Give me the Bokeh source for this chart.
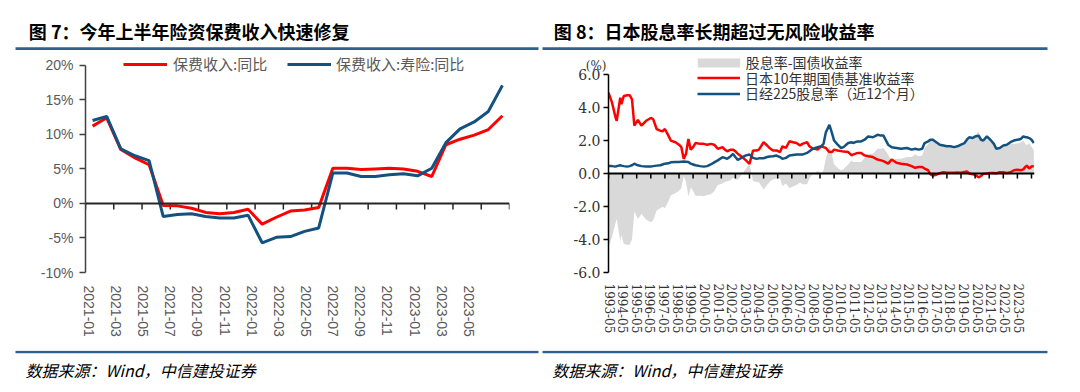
import math
from bokeh.plotting import figure
from bokeh.models import (Range1d, LinearAxis, FixedTicker, PrintfTickFormatter,
                          Legend, LegendItem, Span, AllLabels)
from bokeh.layouts import column, row
from bokeh.core.properties import value
from bokeh.embed import file_html
from bokeh.resources import INLINE

# ---------------- Data: 图7 ----------------
months7 = ["2021-01", "2021-02", "2021-03", "2021-04", "2021-05", "2021-06",
           "2021-07", "2021-08", "2021-09", "2021-10", "2021-11", "2021-12",
           "2022-01", "2022-02", "2022-03", "2022-04", "2022-05", "2022-06",
           "2022-07", "2022-08", "2022-09", "2022-10", "2022-11", "2022-12",
           "2023-01", "2023-02", "2023-03", "2023-04", "2023-05", "2023-06"]
premium_yoy = [11.2, 12.4, 7.8, 6.6, 5.6, -0.3, -0.35, -0.7, -1.3, -1.5, -1.3, -0.85,
               -3.0, -2.0, -1.1, -0.95, -0.6, 5.1, 5.1, 4.9, 5.0, 5.1, 5.0, 4.65,
               3.9, 8.5, 9.3, 9.9, 10.7, 12.7]
life_yoy = [12.0, 12.6, 7.9, 6.9, 6.2, -1.9, -1.6, -1.5, -1.9, -2.1, -2.1, -1.7,
            -5.7, -4.9, -4.8, -4.05, -3.55, 4.4, 4.4, 3.9, 3.9, 4.15, 4.3, 4.0,
            5.1, 8.8, 10.8, 11.8, 13.3, 17.1]
yticks7 = [-10, -5, 0, 5, 10, 15, 20]

# ---------------- Data: 图8 ----------------
dates8 = ["1993-05", "1993-08", "1993-11", "1993-12", "1994-03", "1994-04", "1994-06", "1994-09",
          "1994-11", "1995-01", "1995-03", "1995-06", "1995-09", "1996-01", "1996-05", "1996-07",
          "1996-10", "1997-01", "1997-03", "1997-05", "1997-08", "1997-10", "1998-02", "1998-05",
          "1998-07", "1998-09", "1998-11", "1999-01", "1999-03", "1999-05", "1999-07", "1999-11",
          "2000-02", "2000-05", "2000-08", "2000-11", "2001-02", "2001-06", "2001-08", "2001-10",
          "2002-01", "2002-03", "2002-05", "2002-07", "2002-09", "2002-11", "2003-02", "2003-05",
          "2003-08", "2003-11", "2004-01", "2004-05", "2004-08", "2004-10", "2005-01", "2005-04",
          "2005-07", "2005-09", "2005-12", "2006-03", "2006-06", "2006-09", "2006-12", "2007-02",
          "2007-06", "2007-08", "2007-11", "2008-01", "2008-03", "2008-06", "2008-08", "2008-10",
          "2009-01", "2009-03", "2009-05", "2009-08", "2009-11", "2010-01", "2010-05", "2010-08",
          "2010-09", "2011-01", "2011-04", "2011-07", "2011-10", "2012-02", "2012-06", "2012-09",
          "2012-11", "2013-03", "2013-06", "2013-10", "2014-02", "2014-07", "2014-11", "2015-02",
          "2015-05", "2015-08", "2015-10", "2016-01", "2016-03", "2016-05", "2016-08", "2016-11",
          "2017-02", "2017-05", "2017-08", "2017-11", "2018-02", "2018-05", "2018-08", "2018-10",
          "2018-12", "2019-03", "2019-05", "2019-08", "2019-10", "2019-12", "2020-03", "2020-06",
          "2020-09", "2020-11", "2021-02", "2021-05", "2021-08", "2021-11", "2022-02", "2022-05",
          "2022-08", "2022-10", "2022-12", "2023-01", "2023-03", "2023-05", "2023-07"]
jgb10y = [4.90, 4.30, 3.40, 3.20, 4.60, 4.20, 4.70, 4.75,
          4.75, 4.50, 2.90, 3.25, 2.90, 3.20, 3.37, 3.30,
          2.70, 2.60, 2.56, 2.70, 2.30, 2.00, 1.90, 1.75,
          1.60, 0.89, 1.20, 2.10, 1.45, 1.60, 1.85, 1.80,
          1.80, 1.75, 1.80, 1.75, 1.50, 1.60, 1.45, 1.35,
          1.45, 1.45, 1.35, 1.20, 1.10, 0.99, 0.80, 0.59,
          1.40, 1.40, 1.45, 1.90, 1.70, 1.55, 1.40, 1.40,
          1.30, 1.65, 1.55, 1.96, 1.90, 1.85, 1.70, 1.80,
          1.90, 1.65, 1.50, 1.50, 1.45, 1.65, 1.60, 1.55,
          1.30, 1.30, 1.45, 1.40, 1.36, 1.33, 1.30, 1.10,
          1.15, 1.25, 1.25, 1.10, 1.05, 1.00, 0.85, 0.80,
          0.75, 0.60, 0.85, 0.65, 0.60, 0.55, 0.45, 0.35,
          0.40, 0.40, 0.30, 0.20, -0.05, -0.12, -0.07, 0.02,
          0.08, 0.05, 0.05, 0.05, 0.07, 0.05, 0.10, 0.13,
          0.00, -0.05, -0.08, -0.23, -0.15, -0.02, 0.00, 0.03,
          0.03, 0.02, 0.08, 0.08, 0.03, 0.08, 0.20, 0.23,
          0.20, 0.25, 0.42, 0.48, 0.30, 0.43, 0.45]
nikkei_dy = [0.45, 0.45, 0.42, 0.45, 0.50, 0.48, 0.45, 0.42,
             0.45, 0.50, 0.60, 0.50, 0.45, 0.42, 0.42, 0.45,
             0.48, 0.50, 0.55, 0.60, 0.62, 0.68, 0.70, 0.70,
             0.72, 0.73, 0.72, 0.70, 0.60, 0.55, 0.50, 0.45,
             0.42, 0.45, 0.55, 0.68, 0.80, 0.99, 0.95, 0.89,
             1.05, 1.19, 1.00, 0.83, 0.90, 0.99, 1.10, 1.15,
             0.95, 0.89, 0.92, 0.93, 1.00, 1.03, 1.05, 1.09,
             1.00, 0.89, 0.95, 1.09, 1.12, 1.15, 1.15, 1.15,
             1.25, 1.35, 1.50, 1.55, 1.60, 1.65, 1.80, 2.50,
             2.95, 2.50, 2.00, 1.75, 1.55, 1.60, 1.85, 1.90,
             1.85, 1.95, 1.95, 2.05, 2.25, 2.20, 2.35, 2.30,
             2.30, 1.75, 1.60, 1.55, 1.50, 1.55, 1.45, 1.50,
             1.45, 1.50, 1.85, 1.95, 2.05, 2.05, 1.90, 1.75,
             1.70, 1.65, 1.65, 1.60, 1.65, 1.75, 1.85, 2.05,
             2.20, 2.15, 2.25, 2.30, 2.05, 2.00, 2.25, 2.05,
             1.80, 1.50, 1.55, 1.70, 1.75, 1.90, 2.00, 2.05,
             2.10, 2.25, 2.20, 2.20, 2.15, 2.05, 1.85]
year_labels8 = ["1993-05", "1994-05", "1995-05", "1996-05", "1997-05", "1998-05", "1999-05",
                "2000-05", "2001-05", "2002-05", "2003-05", "2004-05", "2005-05", "2006-05",
                "2007-05", "2008-05", "2009-05", "2010-05", "2011-05", "2012-05", "2013-05",
                "2014-05", "2015-05", "2016-05", "2017-05", "2018-05", "2019-05", "2020-05",
                "2021-05", "2022-05", "2023-05"]
yticks8 = [-6, -4, -2, 0, 2, 4, 6]
unit_label8 = "(%)"

# ---------------- Style ----------------
RED = "#FF0000"
BLUE = "#13527F"
GRAY = "#D9D9D9"
RULE = "#31608F"
CJK = "Noto Sans CJK SC"
SERIF = "DejaVu Serif"


def month_index(s):
    y, m = s.split("-")
    return int(y) * 12 + int(m) - 1


def single_legend(p, label, r, x, y, gw, gh, standoff, font, size, color):
    lg = Legend(items=[LegendItem(label=label, renderers=[r])], location=(x, y),
                orientation="vertical", glyph_width=gw, glyph_height=gh,
                label_standoff=standoff, padding=0, margin=0, spacing=0,
                border_line_color=None, background_fill_alpha=0,
                label_text_font=font, label_text_font_size=size,
                label_text_color=color, label_height=gh, label_width=10)
    p.add_layout(lg, "center")


# ---------------- Header ----------------
hdr = figure(width=1072, height=50, x_range=Range1d(0, 1072), y_range=Range1d(50, 0),
             toolbar_location=None, output_backend="svg", min_border=0,
             x_axis_location=None, y_axis_location=None, outline_line_color=None)
hdr.grid.visible = False
hdr.text(x=[28.3, 553.3], y=[30, 30],
         text=["图 7：今年上半年险资保费收入快速修复", "图 8：日本股息率长期超过无风险收益率"],
         text_font=value(CJK), text_font_style="bold", text_font_size="18px",
         text_baseline="middle", text_align="left", text_color="#000000")
hdr.quad(left=[15, 542], right=[538, 1047], top=[46.8, 46.8], bottom=[49.8, 49.8],
         fill_color=RULE, line_color=None)

# ---------------- Figure 7 ----------------
x7 = list(range(len(months7)))
f7 = figure(width=540, height=300, x_range=Range1d(-0.5, len(months7) - 0.5),
            y_range=Range1d(-10, 22.0), toolbar_location=None, output_backend="svg",
            x_axis_location=None, y_axis_location=None, outline_line_color=None,
            min_border_left=85, min_border_right=31, min_border_top=1, min_border_bottom=76)
f7.grid.visible = False

yax7 = LinearAxis(ticker=FixedTicker(ticks=yticks7), formatter=PrintfTickFormatter(format="%d%%"),
                  bounds=(-10, 20), axis_line_color="#404040", axis_line_width=1.5,
                  major_tick_in=0, major_tick_out=6, minor_tick_out=0, minor_tick_in=0,
                  major_tick_line_color="#404040", major_tick_line_width=1.5,
                  major_label_text_font="Liberation Sans", major_label_text_font_size="14px",
                  major_label_text_color="#595959", major_label_standoff=6)
f7.add_layout(yax7, "left")

f7.extra_x_ranges = {"lab": Range1d(-0.243, 31.0)}
lab_ticks7 = x7[::2]
xlab7 = LinearAxis(x_range_name="lab", ticker=FixedTicker(ticks=lab_ticks7),
                   major_label_overrides={i: months7[i] for i in lab_ticks7},
                   major_label_policy=AllLabels(),
                   axis_line_color=None, major_tick_line_color=None, minor_tick_line_color=None,
                   major_tick_in=0, major_tick_out=0, minor_tick_in=0, minor_tick_out=0,
                   major_label_orientation="vertical", major_label_standoff=13,
                   major_label_text_font="Liberation Sans", major_label_text_font_size="14px",
                   major_label_text_color="#595959")
f7.add_layout(xlab7, "below")

# zero line with tick marks at every second month boundary
f7.add_layout(Span(location=0, dimension="width", line_color="#262626", line_width=2))
zero_ticks7 = [i - 0.5 for i in range(0, len(months7) + 1, 2)]
tick_len7 = 6.0 / (223.0 / 32.0)
f7.segment(x0=zero_ticks7, y0=[0] * len(zero_ticks7), x1=zero_ticks7,
           y1=[-tick_len7] * len(zero_ticks7), line_color="#262626", line_width=1.5)

r7a = f7.line(x7, premium_yoy, line_color=RED, line_width=3)
r7b = f7.line(x7, life_yoy, line_color=BLUE, line_width=3)
single_legend(f7, "保费收入:同比", r7a, 38, 198, 44, 20, 6, CJK, "15px", "#595959")
single_legend(f7, "保费收入:寿险:同比", r7b, 202, 198, 44, 20, 5, CJK, "15px", "#595959")

# ---------------- Figure 8 ----------------
x8 = [month_index(d) for d in dates8]
spread8 = [d - j for d, j in zip(nikkei_dy, jgb10y)]
x0 = month_index(year_labels8[0])
px_per_month = 423.0 / 360.0
frame_w8 = 426.0
f8 = figure(width=532, height=300, x_range=Range1d(x0, x0 + frame_w8 / px_per_month),
            y_range=Range1d(-6, 7.4), toolbar_location=None, output_backend="svg",
            x_axis_location=None, y_axis_location=None, outline_line_color=None,
            min_border_left=68, min_border_right=38, min_border_top=1, min_border_bottom=78)
f8.grid.visible = False

yax8 = LinearAxis(ticker=FixedTicker(ticks=yticks8), bounds=(-6, 6),
                  major_label_overrides={t: ("%.1f" % t) for t in yticks8},
                  axis_line_color="#000000", axis_line_width=1.5,
                  major_tick_in=0, major_tick_out=5, minor_tick_in=0, minor_tick_out=0,
                  major_tick_line_color="#000000", major_tick_line_width=1.5,
                  major_label_text_font=SERIF, major_label_text_font_size="14px",
                  major_label_text_color="#333333", major_label_standoff=3)
f8.add_layout(yax8, "left")

# unit text "(%)": a label-only axis, pulled back next to the frame edge
unit_ax = LinearAxis(ticker=FixedTicker(ticks=[6.5]), major_label_overrides={6.5: unit_label8},
                     major_label_policy=AllLabels(),
                     axis_line_color=None, major_tick_line_color=None, minor_tick_line_color=None,
                     major_tick_in=0, major_tick_out=0, minor_tick_in=0, minor_tick_out=0,
                     major_label_standoff=-36, major_label_text_font=SERIF,
                     major_label_text_font_size="12px", major_label_text_color="#333333")
f8.add_layout(unit_ax, "left")

lab_px = 409.0 / 360.0
lab_start = x0 - 1.0 / lab_px
f8.extra_x_ranges = {"lab": Range1d(lab_start, lab_start + frame_w8 / lab_px)}
lab_ticks8 = [month_index(s) for s in year_labels8]
xlab8 = LinearAxis(x_range_name="lab", ticker=FixedTicker(ticks=lab_ticks8),
                   major_label_overrides={month_index(s): s for s in year_labels8},
                   major_label_policy=AllLabels(),
                   axis_line_color=None, major_tick_line_color=None, minor_tick_line_color=None,
                   major_tick_in=0, major_tick_out=0, minor_tick_in=0, minor_tick_out=0,
                   major_label_orientation="vertical", major_label_standoff=11,
                   major_label_text_font=SERIF, major_label_text_font_size="12px",
                   major_label_text_color="#333333")
f8.add_layout(xlab8, "below")

r8a = f8.varea(x=x8, y1=[0] * len(x8), y2=spread8, fill_color=GRAY)
r8b = f8.line(x8, jgb10y, line_color=RED, line_width=2.5)
r8c = f8.line(x8, nikkei_dy, line_color=BLUE, line_width=2.5)

f8.add_layout(Span(location=0, dimension="width", line_color="#000000", line_width=2))
tick_len8 = 5.0 / (221.0 / 13.4)
f8.segment(x0=lab_ticks8, y0=[0] * len(lab_ticks8), x1=lab_ticks8,
           y1=[-tick_len8] * len(lab_ticks8), line_color="#000000", line_width=1.5)

single_legend(f8, "股息率-国债收益率", r8a, 83.7, 200, 53, 11, 1, CJK, "14px", "#333333")
single_legend(f8, "日本10年期国债基准收益率", r8b, 89, 184.5, 43, 11, 5, CJK, "14px", "#333333")
single_legend(f8, "日经225股息率（近12个月）", r8c, 89, 169, 43, 11, 5, CJK, "14px", "#333333")

# ---------------- Footer ----------------
ftr = figure(width=1072, height=33, x_range=Range1d(0, 1072), y_range=Range1d(33, 0),
             toolbar_location=None, output_backend="svg", min_border=0,
             x_axis_location=None, y_axis_location=None, outline_line_color=None)
ftr.grid.visible = False
ftr.quad(left=[15, 542], right=[538, 1047], top=[0.3, 0.3], bottom=[2.8, 2.8],
         fill_color=RULE, line_color=None)
ftr.text(x=[25, 551.7], y=[19, 19], text=["数据来源：Wind，中信建投证券"] * 2,
         text_font=value(CJK), text_font_style="italic", text_font_size="16px",
         text_baseline="middle", text_align="left", text_color="#000000")

layout = column(hdr, row(f7, f8), ftr)
open("out.html", "w").write(file_html(layout, INLINE))
